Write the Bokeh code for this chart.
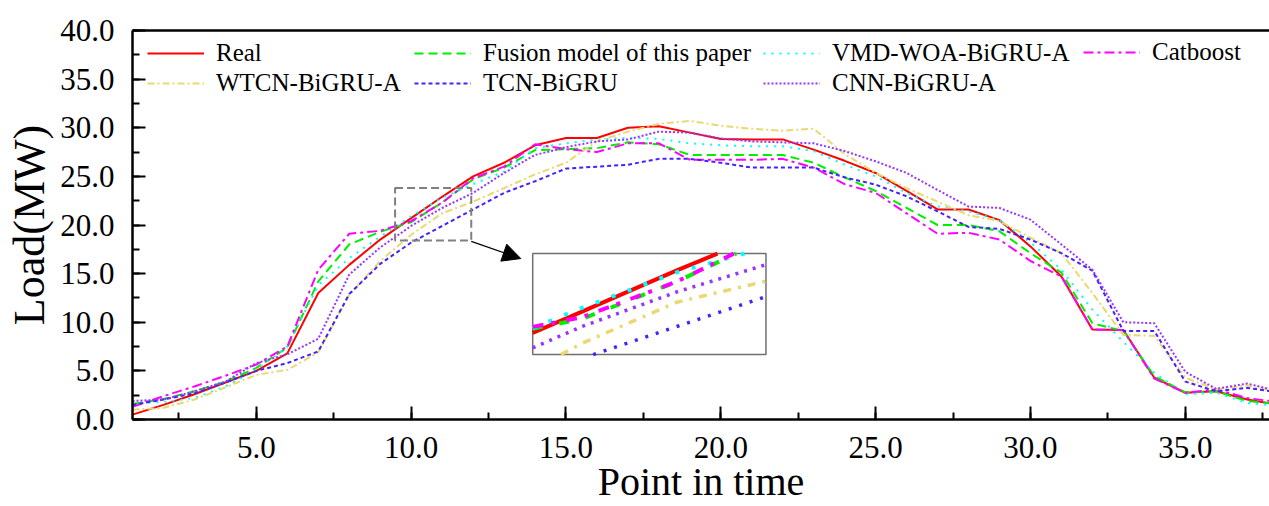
import numpy as np
from bokeh.plotting import figure
from bokeh.models import (Range1d, LinearAxis, SingleIntervalTicker, PrintfTickFormatter,
                          Legend, LegendItem, Arrow, NormalHead)
from bokeh.embed import file_html
from bokeh.resources import INLINE

# ---------------- data ----------------
points = list(range(1, 39))
real = [0.5, 1.5, 2.6, 3.8, 5.0, 6.8, 13.0, 15.9, 18.5, 20.7, 22.9, 25.0, 26.4, 28.2, 28.95,
        28.95, 30.0, 30.15, 29.5, 28.85, 28.8, 28.8, 27.75, 26.6, 25.35, 23.5, 21.6, 21.6,
        20.5, 17.8, 14.7, 9.25, 9.2, 4.3, 2.75, 2.9, 2.05, 1.5]
fusion = [1.6, 2.1, 2.9, 3.9, 5.3, 7.4, 14.2, 18.0, 19.3, 20.3, 22.3, 24.7, 25.9, 27.7, 27.8,
          27.9, 28.5, 28.3, 27.2, 27.2, 27.2, 27.2, 26.4, 24.9, 23.5, 21.75, 20.0, 20.0,
          19.35, 17.1, 15.1, 9.9, 9.1, 4.45, 2.8, 2.9, 1.9, 1.6]
vmd_woa = [1.65, 1.8, 2.2, 3.4, 5.1, 7.5, 13.8, 16.6, 18.8, 20.9, 22.8, 24.2, 25.5, 27.9, 28.4,
           28.8, 28.95, 28.85, 28.4, 28.2, 28.1, 28.1, 27.6, 26.2, 25.0, 23.3, 21.9, 21.4,
           20.5, 18.2, 15.4, 11.3, 8.0, 4.8, 2.6, 2.75, 1.7, 1.4]
catboost = [1.3, 2.4, 3.4, 4.5, 5.65, 7.5, 15.4, 19.1, 19.4, 20.4, 22.3, 24.8, 26.0, 28.3, 27.8,
            27.5, 28.4, 28.4, 26.7, 26.7, 26.7, 26.8, 25.9, 24.2, 23.3, 21.2, 19.1, 19.2,
            18.5, 16.3, 14.7, 9.25, 9.2, 4.2, 2.75, 3.1, 2.2, 1.8]
wtcn = [1.0, 1.2, 2.05, 3.3, 4.6, 5.1, 6.9, 12.8, 16.3, 19.0, 21.2, 22.4, 23.8, 25.2, 26.4,
        28.6, 29.6, 30.4, 30.7, 30.2, 29.9, 29.7, 29.9, 27.3, 25.35, 23.8, 22.4, 21.0,
        20.4, 18.7, 17.1, 13.0, 8.7, 8.6, 4.3, 3.1, 3.5, 2.8]
tcn = [1.5, 2.05, 2.7, 3.8, 5.0, 5.8, 7.0, 12.9, 16.0, 18.2, 19.9, 21.6, 23.3, 24.5, 25.8,
       26.0, 26.2, 26.8, 26.8, 26.4, 25.9, 25.9, 25.9, 24.9, 24.15, 22.95, 21.4, 19.8,
       19.6, 18.5, 17.1, 15.3, 9.1, 9.1, 3.9, 2.9, 3.25, 2.8]
cnn = [1.9, 2.05, 2.9, 3.9, 5.8, 6.7, 8.3, 14.9, 17.7, 19.9, 21.75, 23.3, 25.35, 27.2, 28.0,
       28.6, 28.8, 29.6, 29.5, 28.9, 28.6, 28.5, 28.4, 27.6, 26.55, 25.35, 23.6, 21.9,
       21.75, 20.55, 18.0, 15.4, 10.0, 9.9, 4.9, 3.15, 3.7, 2.9]

x_ticks_interval = 5
y_ticks_interval = 5

# ---------------- styles ----------------
FONT = "Liberation Serif"
series = [
    dict(name="Real", y=real, color="#FF0000", dash="solid", w=2, idash="solid", iw=4),
    dict(name="Fusion model of this paper", y=fusion, color="#00EE00", dash="9 5", w=2, idash="10 17", iw=4),
    dict(name="VMD-WOA-BiGRU-A", y=vmd_woa, color="#00FFFF", dash="2 6", w=2, idash="4 13", iw=4),
    dict(name="Catboost", y=catboost, color="#FF00FF", dash="10 4 3 4", w=2, idash="11 8 4 11", iw=4),
    dict(name="WTCN-BiGRU-A", y=wtcn, color="#EAD870", dash="7 3 2 3", w=2, idash="8 7 3 7", iw=3.5),
    dict(name="TCN-BiGRU", y=tcn, color="#4422FF", dash="4 3", w=2, idash="3 8", iw=3.5),
    dict(name="CNN-BiGRU-A", y=cnn, color="#9933FF", dash="2 2", w=2, idash="3 6", iw=3.5),
]

# zoom window (data) and inset box (placement)
zx0, zx1, zy0, zy1 = 9.48, 11.94, 18.4, 23.8
ix0, ix1, iy0, iy1 = 13.925, 21.458, 6.68, 17.06

p = figure(width=1269, height=506, output_backend="svg", toolbar_location=None,
           x_range=Range1d(1, 37.72), y_range=Range1d(0, 40),
           min_border_left=132, min_border_right=0, min_border_top=30, min_border_bottom=86,
           x_axis_location=None, y_axis_location=None)
p.outline_line_color = None
p.grid.visible = False
p.background_fill_color = "white"
p.border_fill_color = "white"

def style_axis(ax):
    ax.axis_line_width = 2.5
    ax.axis_line_color = "black"
    ax.major_tick_in = 13
    ax.major_tick_out = 0
    ax.minor_tick_in = 7
    ax.minor_tick_out = 0
    ax.major_tick_line_width = 2
    ax.minor_tick_line_width = 2
    ax.major_label_text_font = FONT
    ax.major_label_text_font_size = "31px"
    ax.major_label_text_color = "black"
    ax.axis_label_text_font = FONT
    ax.axis_label_text_font_style = "normal"
    ax.axis_label_text_color = "black"

xaxis = LinearAxis(ticker=SingleIntervalTicker(interval=x_ticks_interval, num_minor_ticks=2),
                   formatter=PrintfTickFormatter(format="%.1f"),
                   axis_label="Point in time")
style_axis(xaxis)
xaxis.major_label_standoff = 17
xaxis.axis_label_standoff = -2
xaxis.axis_label_text_font_size = "40px"
p.add_layout(xaxis, "below")

yaxis = LinearAxis(ticker=SingleIntervalTicker(interval=y_ticks_interval, num_minor_ticks=2),
                   formatter=PrintfTickFormatter(format="%.1f"),
                   axis_label="Load(MW)")
style_axis(yaxis)
yaxis.major_label_standoff = 18
yaxis.axis_label_standoff = 3
yaxis.axis_label_text_font_size = "44px"
p.add_layout(yaxis, "left")

top = LinearAxis(ticker=[], major_label_text_font_size="0px", major_label_standoff=0)
top.axis_line_width = 2.5
top.axis_line_color = "black"
p.add_layout(top, "above")

# main lines
renderers = {}
for s in series:
    r = p.line(points, s["y"], line_color=s["color"], line_width=s["w"], line_dash=s["dash"])
    renderers[s["name"]] = r

# zoom rectangle + arrow
p.quad(left=[zx0], right=[zx1], bottom=[zy0], top=[zy1], fill_color=None,
       line_color="#808080", line_width=2, line_dash="8 4")
p.add_layout(Arrow(x_start=11.94, y_start=18.32, x_end=13.54, y_end=16.55,
                   line_color="black", line_width=1.2,
                   end=NormalHead(size=18, fill_color="black", line_color="black")))

# inset box
p.quad(left=[ix0], right=[ix1], bottom=[iy0], top=[iy1], fill_color="white",
       line_color="#707070", line_width=1.5)

def clip_poly(xs, ys, x0, x1, y0, y1):
    out = []
    cur = None
    for i in range(len(xs) - 1):
        xa, ya, xb, yb = xs[i], ys[i], xs[i + 1], ys[i + 1]
        dx, dy = xb - xa, yb - ya
        t0, t1 = 0.0, 1.0
        ok = True
        for pp, qq in ((-dx, xa - x0), (dx, x1 - xa), (-dy, ya - y0), (dy, y1 - ya)):
            if pp == 0:
                if qq < 0:
                    ok = False
                    break
            else:
                t = qq / pp
                if pp < 0:
                    if t > t1:
                        ok = False
                        break
                    t0 = max(t0, t)
                else:
                    if t < t0:
                        ok = False
                        break
                    t1 = min(t1, t)
        if not ok:
            cur = None
            continue
        sx, sy = xa + t0 * dx, ya + t0 * dy
        ex, ey = xa + t1 * dx, ya + t1 * dy
        if cur is not None and t0 == 0.0:
            cur[0].append(ex)
            cur[1].append(ey)
        else:
            cur = ([sx, ex], [sy, ey])
            out.append(cur)
        if t1 < 1.0:
            cur = None
    return out

sx_scale = (ix1 - ix0) / (zx1 - zx0)
sy_scale = (iy1 - iy0) / (zy1 - zy0)
px = np.array(points, dtype=float)
for s in series:
    X = ix0 + (px - zx0) * sx_scale
    Y = iy0 + (np.array(s["y"], dtype=float) - zy0) * sy_scale
    pieces = clip_poly(list(X), list(Y), ix0, ix1, iy0, iy1)
    if pieces:
        p.multi_line([a for a, b in pieces], [b for a, b in pieces], line_color=s["color"],
                     line_width=s["iw"], line_dash=s["idash"])

# legends (four columns)
H = 29
SP = 2
cols = [(15, ["Real", "WTCN-BiGRU-A"]),
        (282, ["Fusion model of this paper", "TCN-BiGRU"]),
        (631, ["VMD-WOA-BiGRU-A", "CNN-BiGRU-A"]),
        (951, ["Catboost"])]
frame_h = 390
top_off = 8
for xo, names in cols:
    n = len(names)
    lh = n * H + (n - 1) * SP
    lg = Legend(items=[LegendItem(label=nm, renderers=[renderers[nm]]) for nm in names],
                location=(xo, frame_h - top_off - lh), orientation="vertical",
                padding=0, margin=0, spacing=SP, glyph_width=57, glyph_height=20,
                label_standoff=12, label_text_font=FONT, label_text_font_size="25px",
                label_text_color="black", border_line_color=None, background_fill_alpha=0)
    p.add_layout(lg, "center")

open("out.html", "w").write(file_html(p, INLINE))
